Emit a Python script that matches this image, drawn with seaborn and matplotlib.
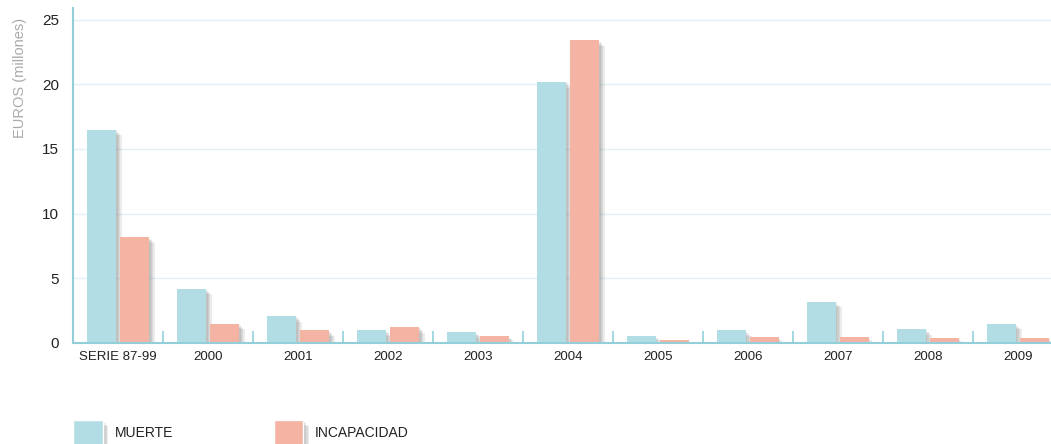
import pandas as pd
import matplotlib.pyplot as plt
import matplotlib.patheffects as pe
from matplotlib.patches import Patch
from matplotlib.ticker import FixedLocator
import seaborn as sns

# Datos (millones de euros)
categorias = ['SERIE 87-99', '2000', '2001', '2002', '2003', '2004',
              '2005', '2006', '2007', '2008', '2009']
muerte = [16.5, 4.2, 2.1, 1.0, 0.85, 20.2, 0.55, 1.0, 3.2, 1.1, 1.5]
incapacidad = [8.2, 1.5, 1.0, 1.25, 0.55, 23.4, 0.2, 0.45, 0.45, 0.4, 0.4]

color_muerte = '#b2dde4'
color_incap = '#f4b3a3'
teal = '#93cfd9'

df = pd.DataFrame({
    'categoria': categorias * 2,
    'valor': muerte + incapacidad,
    'tipo': ['MUERTE'] * len(categorias) + ['INCAPACIDAD'] * len(categorias),
})

sns.set_style('white')
plt.rcParams['font.family'] = ['Liberation Sans', 'DejaVu Sans']

fig = plt.figure(figsize=(10.51, 4.44), dpi=100)
ax = fig.add_axes([0.0695, 0.2275, 0.9305, 0.7545])

# sombra difusa: varias capas desplazadas
sombra = [pe.SimplePatchShadow(offset=(d, -d), shadow_rgbFace='#777777', alpha=0.14)
          for d in (1.2, 2.2, 3.2, 4.2)] + [pe.Normal()]

sns.barplot(data=df, x='categoria', y='valor', hue='tipo',
            palette=[color_muerte, color_incap], width=0.733, gap=0.12,
            legend=False, ax=ax, saturation=1, linewidth=0)
for p in ax.patches:
    p.set_path_effects(sombra)

ax.set_xlim(-0.5, 10.37)
ax.set_ylim(0, 25.9)
ax.set_yticks([0, 5, 10, 15, 20, 25])
ax.yaxis.grid(True, color='#e1f1f4', linewidth=1)
ax.set_axisbelow(True)

for s in ['top', 'right']:
    ax.spines[s].set_visible(False)
for s in ['left', 'bottom']:
    ax.spines[s].set_color(teal)
    ax.spines[s].set_linewidth(1.5)

ax.tick_params(axis='y', length=0, pad=10, labelsize=11, labelcolor='#222222')
ax.tick_params(axis='x', which='major', length=0, pad=6, labelsize=9.5, labelcolor='#222222')
ax.xaxis.set_minor_locator(FixedLocator([i + 0.5 for i in range(len(categorias) - 1)]))
ax.tick_params(axis='x', which='minor', bottom=True, direction='in', length=9,
               width=1.2, color=teal)

ax.set_xlabel('')
ax.set_ylabel('EUROS (millones)', loc='top', color='#aaaaaa', fontsize=10.5)
ax.yaxis.set_label_coords(-0.047, 0.97)

handles = [Patch(facecolor=color_muerte, path_effects=sombra),
           Patch(facecolor=color_incap, path_effects=sombra)]
fig.legend(handles, ['MUERTE', 'INCAPACIDAD'], loc='center left',
           bbox_to_anchor=(0.058, 0.025), ncol=2, frameon=False, fontsize=10,
           handlelength=2.1, handleheight=2.4, handletextpad=0.85,
           columnspacing=7.3, labelcolor='#222222')

fig.savefig('out.png', dpi=100)
